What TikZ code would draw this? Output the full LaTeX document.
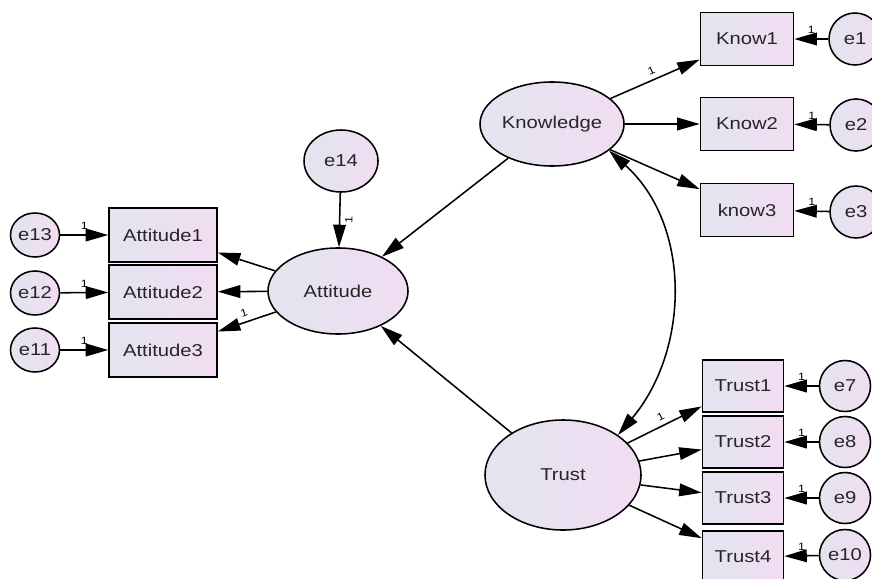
\documentclass[tikz,border=0pt]{standalone}
\usepackage{fontspec}
\setmainfont[FakeStretch=1.18]{Liberation Sans}
\usetikzlibrary{arrows.meta,shapes.geometric}
\definecolor{shadeL}{HTML}{E2E5EF}
\definecolor{shadeR}{HTML}{F2DCF2}

\begin{document}
\begin{tikzpicture}[x=0.025cm,y=0.025cm,line width=1.1pt,
	>={Triangle[length=16pt,width=9pt]},
	every node/.style={text=black!85,font=\fontsize{12.2}{14}\selectfont},
	grad/.style={draw,line width=1.1pt,left color=shadeL,right color=shadeR},
	lat/.style={grad,ellipse,inner sep=0pt},
	obs/.style={grad,rectangle,inner sep=0pt,minimum height=1.32cm},
	err/.style={grad,ellipse,inner sep=0pt,minimum width=1.3cm,minimum height=1.3cm},
	one/.style={text=black,font=\fontsize{7.5}{8}\selectfont}]
		\useasboundingbox (0,0) rectangle (872,-578);
		% latent variables
		\draw (552,-124) node [lat,minimum width=3.6cm,minimum height=2.1cm] (knowledge) {Knowledge};
		\draw (338,-291) node [lat,minimum width=3.5cm,minimum height=2.15cm] (attitude) {Attitude};
		\draw (563,-475) node [lat,minimum width=3.9cm,minimum height=2.75cm] (trust) {Trust};
		% indicators
		\draw (747,-39) node [obs,minimum width=2.325cm] (know1) {Know1};
		\draw (747,-124) node [obs,minimum width=2.325cm] (know2) {Know2};
		\draw (747,-210) node [obs,minimum width=2.325cm] (know3) {know3};
		\draw (163,-235) node [obs,minimum width=2.7cm,minimum height=1.35cm] (att1) {Attitude1};
		\draw (163,-292) node [obs,minimum width=2.7cm,minimum height=1.35cm] (att2) {Attitude2};
		\draw (163,-350) node [obs,minimum width=2.7cm,minimum height=1.35cm] (att3) {Attitude3};
		\draw (743,-386) node [obs,minimum width=2.025cm,minimum height=1.3cm] (trust1) {Trust1};
		\draw (743,-442) node [obs,minimum width=2.025cm,minimum height=1.3cm] (trust2) {Trust2};
		\draw (743,-498) node [obs,minimum width=2.025cm,minimum height=1.3cm] (trust3) {Trust3};
		\draw (743,-557) node [obs,minimum width=2.025cm,minimum height=1.3cm] (trust4) {Trust4};
		% errors
		\draw (855,-39) node [err] (e1) {e1};
		\draw (856,-125) node [err] (e2) {e2};
		\draw (856,-212) node [err] (e3) {e3};
		\draw (341,-161) node [err,minimum width=1.85cm,minimum height=1.55cm] (e14) {e14};
		\draw (35,-235) node [err,minimum width=1.225cm,minimum height=1.1cm] (e13) {e13};
		\draw (35,-293) node [err,minimum width=1.225cm,minimum height=1.1cm] (e12) {e12};
		\draw (35,-350) node [err,minimum width=1.225cm,minimum height=1.1cm] (e11) {e11};
		\draw (845,-386) node [err,minimum width=1.275cm,minimum height=1.275cm] (e7) {e7};
		\draw (845,-442) node [err,minimum width=1.275cm,minimum height=1.275cm] (e8) {e8};
		\draw (845,-498) node [err,minimum width=1.275cm,minimum height=1.275cm] (e9) {e9};
		\draw (845,-555) node [err,minimum width=1.275cm,minimum height=1.275cm] (e10) {e10};
		\path[->]
			(knowledge) edge node [one,sloped,above] {1} (know1)
			            edge (know2)
			            edge (know3)
			            edge (attitude)
			(trust) edge (attitude)
			        edge node [one,sloped,above] {1} (trust1)
			        edge (trust2)
			        edge (trust3)
			        edge (trust4)
			(attitude) edge (att1)
			           edge (att2)
			           edge node [one,sloped,above] {1} (att3)
			(e14) edge node [one,sloped,below] {1} (attitude)
			(e1) edge node [one,above] {1} (know1)
			(e2) edge node [one,above] {1} (know2)
			(e3) edge node [one,above] {1} (know3)
			(e13) edge node [one,above] {1} (att1)
			(e12) edge node [one,above] {1} (att2)
			(e11) edge node [one,above] {1} (att3)
			(e7) edge node [one,above] {1} (trust1)
			(e8) edge node [one,above] {1} (trust2)
			(e9) edge node [one,above] {1} (trust3)
			(e10) edge node [one,above] {1} (trust4);
		\draw[<->] (knowledge.-25) to [out=-42,in=50] (trust.36);
	\end{tikzpicture}
\end{document}
